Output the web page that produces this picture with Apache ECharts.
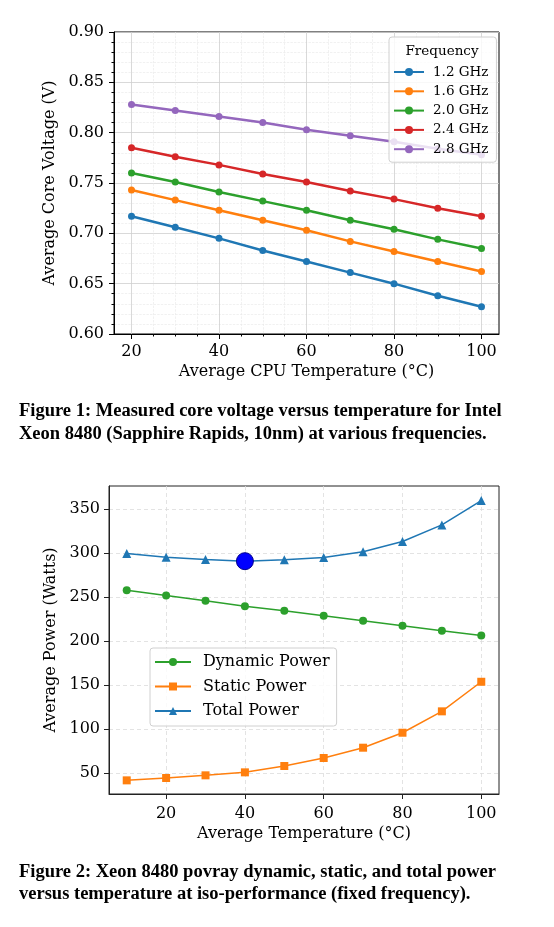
<!DOCTYPE html>
<html><head><meta charset="utf-8">
<script src="https://cdn.jsdelivr.net/npm/echarts@6/dist/echarts.min.js"></script>
<style>html,body{margin:0;padding:0;background:#fff}#c{width:554px;height:927px}</style>
</head><body><div id="c"></div>
<script>
// ---- Figure 1 data ----
const temps1 = [20, 30, 40, 50, 60, 70, 80, 90, 100];
const freqNames = ['1.2 GHz', '1.6 GHz', '2.0 GHz', '2.4 GHz', '2.8 GHz'];
const volt12 = [0.717, 0.706, 0.695, 0.683, 0.672, 0.661, 0.650, 0.638, 0.627];
const volt16 = [0.743, 0.733, 0.723, 0.713, 0.703, 0.692, 0.682, 0.672, 0.662];
const volt20 = [0.760, 0.751, 0.741, 0.732, 0.723, 0.713, 0.704, 0.694, 0.685];
const volt24 = [0.785, 0.776, 0.768, 0.759, 0.751, 0.742, 0.734, 0.725, 0.717];
const volt28 = [0.828, 0.822, 0.816, 0.810, 0.803, 0.797, 0.791, 0.784, 0.778];
const tempTicks1 = [20, 40, 60, 80, 100];

// ---- Figure 2 data ----
const temps2 = [10, 20, 30, 40, 50, 60, 70, 80, 90, 100];
const dynamicPower = [257.7, 251.6, 245.6, 239.5, 234.2, 228.5, 222.9, 217.2, 211.5, 206.2];
const staticPower = [41.6, 44.3, 47.3, 50.7, 57.9, 67.0, 78.7, 95.7, 120.0, 153.6];
const totalPower = [299.3, 295.1, 292.5, 290.6, 292.1, 294.8, 301.2, 312.9, 331.8, 359.5];
const powerNames = ['Dynamic Power', 'Static Power', 'Total Power'];
const tempTicks2 = [20, 40, 60, 80, 100];
const powerTicks = [50, 100, 150, 200, 250, 300, 350];

const caption1 = ['Figure 1: Measured core voltage versus temperature for Intel',
                  'Xeon 8480 (Sapphire Rapids, 10nm) at various frequencies.'];
const caption2 = ['Figure 2: Xeon 8480 povray dynamic, static, and total power',
                  'versus temperature at iso-performance (fixed frequency).'];

const tab = ['#1f77b4', '#ff7f0e', '#2ca02c', '#d62728', '#9467bd'];
const SERIF = "'DejaVu Serif', serif";
const CAP = "'Liberation Serif', 'DejaVu Serif', serif";

const pairs = (xs, ys) => xs.map((x, i) => [x, ys[i]]);
const voltSeries = [volt12, volt16, volt20, volt24, volt28];
const minIdx = totalPower.indexOf(Math.min(...totalPower));

const chart = echarts.init(document.getElementById('c'), null, {renderer: 'canvas'});

const axTitle = {fontFamily: SERIF, fontSize: 16, color: '#000'};
const axTick = {fontFamily: SERIF, fontSize: 16, color: '#000'};
const capFont = 'bold 18.5px ' + CAP;

const option = {
  animation: false,
  backgroundColor: '#fff',
  grid: [
    {left: 114, right: 55, top: 32, height: 302, show: true, borderColor: '#000', borderWidth: 1, backgroundColor: 'transparent'},
    {left: 109, right: 55, top: 486, height: 308, show: true, borderColor: '#222', borderWidth: 1, backgroundColor: 'transparent'}
  ],
  xAxis: [
    {gridIndex: 0, type: 'value', min: 16, max: 104,
     name: 'Average CPU Temperature (°C)', nameLocation: 'middle', nameGap: 30,
     nameTextStyle: axTitle,
     axisLine: {show: true, onZero: false, lineStyle: {color: '#000', width: 1}},
     axisTick: {show: true, length: 5, customValues: tempTicks1, lineStyle: {color: '#000'}},
     minorTick: {show: true, splitNumber: 4, length: 2.5, lineStyle: {color: '#000'}},
     axisLabel: Object.assign({customValues: tempTicks1, margin: 10}, axTick),
     splitLine: {show: true, lineStyle: {color: '#cfcfcf', width: 0.8}},
     minorSplitLine: {show: true, lineStyle: {color: '#e8e8e8', width: 0.6, type: 'dashed'}}
    },
    {gridIndex: 1, type: 'value', min: 5.5, max: 104.5,
     name: 'Average Temperature (°C)', nameLocation: 'middle', nameGap: 32,
     nameTextStyle: axTitle,
     axisLine: {show: true, onZero: false, lineStyle: {color: '#222', width: 1}},
     axisTick: {show: true, length: 5, customValues: tempTicks2, lineStyle: {color: '#222'}},
     axisLabel: Object.assign({customValues: tempTicks2, margin: 12}, axTick),
     splitLine: {show: true, lineStyle: {color: '#dcdcdc', width: 0.8, type: [4, 3]}}
    }
  ],
  yAxis: [
    {gridIndex: 0, type: 'value', min: 0.60, max: 0.90, interval: 0.05,
     name: 'Average Core Voltage (V)', nameLocation: 'middle', nameGap: 46,
     nameTextStyle: axTitle,
     axisLine: {show: true, onZero: false, lineStyle: {color: '#000', width: 1}},
     axisTick: {show: true, length: 5, lineStyle: {color: '#000'}},
     minorTick: {show: true, splitNumber: 5, length: 2.5, lineStyle: {color: '#000'}},
     axisLabel: Object.assign({margin: 10, formatter: v => v.toFixed(2)}, axTick),
     splitLine: {show: true, lineStyle: {color: '#cfcfcf', width: 0.8}},
     minorSplitLine: {show: true, lineStyle: {color: '#e8e8e8', width: 0.6, type: 'dashed'}}
    },
    {gridIndex: 1, type: 'value', min: 26.1, max: 376,
     name: 'Average Power (Watts)', nameLocation: 'middle', nameGap: 41,
     nameTextStyle: axTitle,
     axisLine: {show: true, onZero: false, lineStyle: {color: '#222', width: 1}},
     axisTick: {show: true, length: 5, customValues: powerTicks, lineStyle: {color: '#222'}},
     axisLabel: Object.assign({customValues: powerTicks, margin: 9}, axTick),
     splitLine: {show: true, lineStyle: {color: '#dcdcdc', width: 0.8, type: [4, 3]}}
    }
  ],
  legend: [
    {data: freqNames, orient: 'vertical', left: 389, top: 37,
     padding: [28, 8, 6, 4], itemGap: 5.3, itemWidth: 30, itemHeight: 10,
     backgroundColor: 'rgba(255,255,255,0.8)', borderColor: '#d0d0d0', borderWidth: 1, borderRadius: 3,
     textStyle: {fontFamily: SERIF, fontSize: 13.5, lineHeight: 14, color: '#000', padding: [0, 0, 0, 4]}},
    {data: powerNames, orient: 'vertical', left: 150, top: 648,
     padding: [6, 7, 7, 4], itemGap: 8.5, itemWidth: 36, itemHeight: 10,
     backgroundColor: 'rgba(255,255,255,0.8)', borderColor: '#d0d0d0', borderWidth: 1, borderRadius: 3,
     textStyle: {fontFamily: SERIF, fontSize: 16, lineHeight: 15, color: '#000', padding: [0, 0, 0, 7]}}
  ],
  graphic: [
    {type: 'text', x: 442, y: 51, z: 100,
     style: {text: 'Frequency', font: '13.5px ' + SERIF, fill: '#000', align: 'center', verticalAlign: 'middle'}},
    {type: 'text', x: 19, y: 411, style: {text: caption1[0], font: capFont, fill: '#000', verticalAlign: 'middle'}},
    {type: 'text', x: 19, y: 434, style: {text: caption1[1], font: capFont, fill: '#000', verticalAlign: 'middle'}},
    {type: 'text', x: 19, y: 872, style: {text: caption2[0], font: capFont, fill: '#000', verticalAlign: 'middle'}},
    {type: 'text', x: 19, y: 894, style: {text: caption2[1], font: capFont, fill: '#000', verticalAlign: 'middle'}}
  ],
  series: [
    ...voltSeries.map((vals, i) => ({
      name: freqNames[i], type: 'line', xAxisIndex: 0, yAxisIndex: 0,
      data: pairs(temps1, vals), symbol: 'circle', symbolSize: 7,
      color: tab[i], lineStyle: {width: 2.5, color: tab[i]}, itemStyle: {color: tab[i]}
    })),
    {name: powerNames[0], type: 'line', xAxisIndex: 1, yAxisIndex: 1, data: pairs(temps2, dynamicPower),
     symbol: 'circle', symbolSize: 8, color: tab[2], lineStyle: {width: 1.5}, itemStyle: {color: tab[2]}},
    {name: powerNames[1], type: 'line', xAxisIndex: 1, yAxisIndex: 1, data: pairs(temps2, staticPower),
     symbol: 'rect', symbolSize: 8, color: tab[1], lineStyle: {width: 1.5}, itemStyle: {color: tab[1]}},
    {name: powerNames[2], type: 'line', xAxisIndex: 1, yAxisIndex: 1, data: pairs(temps2, totalPower),
     symbol: 'triangle', symbolSize: 9, color: tab[0], lineStyle: {width: 1.5}, itemStyle: {color: tab[0]}},
    {name: 'Optimum', type: 'scatter', xAxisIndex: 1, yAxisIndex: 1, data: [[temps2[minIdx], totalPower[minIdx]]],
     symbol: 'circle', symbolSize: 17, z: 10,
     itemStyle: {color: '#0000ff', opacity: 1, borderColor: '#00008b', borderWidth: 1}}
  ]
};
chart.setOption(option);
</script></body></html>
